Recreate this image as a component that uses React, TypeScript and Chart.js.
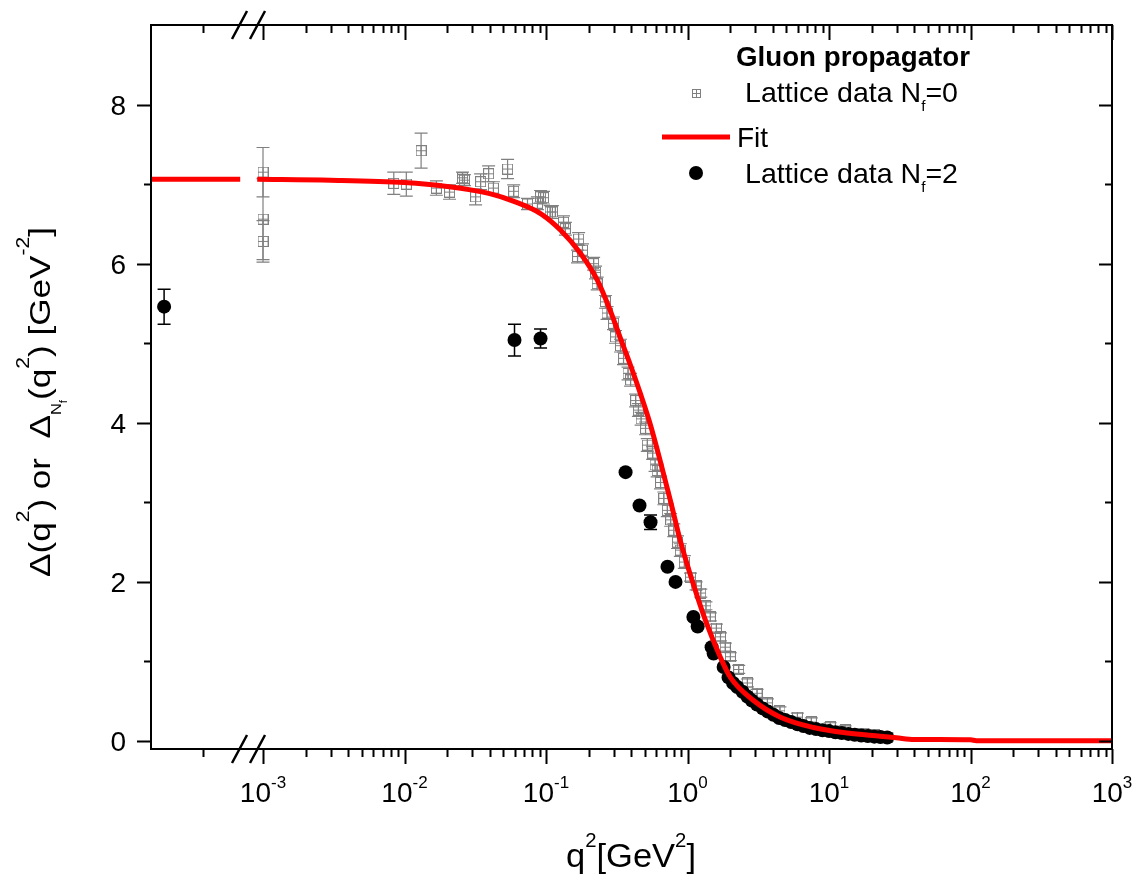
import React, { useEffect, useRef } from 'react';
import { Chart, registerables } from 'chart.js';

Chart.register(...registerables);

// ---------------- data ----------------
const nf0Q2 = [0.001, 0.001, 0.001, 0.0084, 0.0103, 0.0131, 0.0168, 0.0208, 0.0257, 0.0265, 0.0318, 0.0345, 0.0393, 0.0425, 0.0535, 0.0591, 0.074, 0.087, 0.0915, 0.096, 0.107, 0.111, 0.133, 0.137, 0.167, 0.17, 0.181, 0.217, 0.224, 0.23, 0.263, 0.27, 0.30, 0.31, 0.336, 0.353, 0.38, 0.396, 0.43, 0.45, 0.47, 0.505, 0.52, 0.567, 0.59, 0.61, 0.645, 0.68, 0.72, 0.76, 0.80, 0.85, 0.89, 0.95, 1.05, 1.15, 1.24, 1.35, 1.45, 1.6, 1.71, 1.85, 2.01, 2.3, 2.65, 3.1, 3.67, 4.5, 5.98, 7.5, 10.2, 13, 17.5, 21, 25.8];
const nf0Val = [7.15, 6.56, 6.28, 7.01, 7.00, 7.42, 6.95, 6.90, 7.08, 7.05, 6.84, 7.03, 7.13, 6.95, 7.19, 6.91, 6.75, 6.76, 6.84, 6.83, 6.65, 6.65, 6.52, 6.44, 6.09, 6.31, 6.17, 6.00, 5.89, 5.75, 5.52, 5.38, 5.25, 5.08, 4.97, 4.81, 4.62, 4.54, 4.28, 4.16, 4.05, 3.93, 3.72, 3.62, 3.47, 3.40, 3.25, 3.05, 2.90, 2.78, 2.65, 2.50, 2.40, 2.25, 2.06, 1.95, 1.86, 1.70, 1.56, 1.42, 1.31, 1.18, 1.06, 0.90, 0.73, 0.60, 0.48, 0.38, 0.30, 0.24, 0.18, 0.14, 0.10, 0.08, 0.05];
const nf0Err = [0.31, 0.51, 0.26, 0.14, 0.15, 0.22, 0.09, 0.09, 0.07, 0.07, 0.10, 0.10, 0.10, 0.08, 0.12, 0.08, 0.07, 0.08, 0.08, 0.08, 0.08, 0.08, 0.08, 0.08, 0.08, 0.08, 0.08, 0.08, 0.08, 0.08, 0.08, 0.08, 0.08, 0.08, 0.08, 0.08, 0.08, 0.08, 0.08, 0.08, 0.08, 0.08, 0.08, 0.08, 0.08, 0.08, 0.08, 0.08, 0.08, 0.08, 0.08, 0.08, 0.08, 0.08, 0.05, 0.05, 0.05, 0.05, 0.05, 0.05, 0.05, 0.05, 0.05, 0.05, 0.05, 0.05, 0.05, 0.05, 0.05, 0.05, 0.05, 0.05, 0.05, 0.05, 0.05];

const nf2Q2 = [2.0e-4, 0.0599, 0.0915, 0.365, 0.458, 0.548, 0.722, 0.823, 1.10, 1.18, 1.48, 1.53, 1.80, 1.95, 2.10, 2.25, 2.45, 2.65, 2.85, 3.1, 3.4, 3.7, 4.05, 4.45, 4.9, 5.4, 6.0, 6.6, 7.3, 8.1, 9.0, 10.0, 11.1, 12.3, 13.7, 15.2, 16.9, 18.8, 20.9, 23.1, 25.8];
const nf2Val = [5.46, 5.04, 5.06, 3.38, 2.96, 2.75, 2.19, 2.00, 1.56, 1.44, 1.18, 1.10, 0.93, 0.80, 0.73, 0.68, 0.62, 0.56, 0.51, 0.46, 0.41, 0.37, 0.33, 0.29, 0.265, 0.24, 0.21, 0.19, 0.165, 0.15, 0.135, 0.125, 0.11, 0.10, 0.09, 0.08, 0.07, 0.062, 0.055, 0.05, 0.045];
const nf2Err = [0.22, 0.20, 0.12, 0, 0, 0.09, 0, 0, 0, 0, 0, 0, 0, 0, 0, 0, 0, 0, 0, 0, 0, 0, 0, 0, 0, 0, 0, 0, 0, 0, 0, 0, 0, 0, 0, 0, 0, 0, 0, 0, 0];

const fitQ2 = [1.616e-4, 6.9e-4, 7.9e-4, 9.1e-4, 3e-3, 0.01, 0.02, 0.04, 0.06, 0.0915, 0.127, 0.175, 0.231, 0.286, 0.336, 0.396, 0.466, 0.548, 0.646, 0.758, 0.889, 1.10, 1.35, 1.71, 2.01, 2.93, 4.54, 7.77, 13.5, 23, 30, 40, 100, 110, 1000];
const fitVal: (number | null)[] = [7.06, 7.06, null, 7.06, 7.05, 7.02, 6.97, 6.88, 6.78, 6.63, 6.42, 6.13, 5.79, 5.40, 5.06, 4.72, 4.36, 3.97, 3.50, 3.02, 2.52, 1.97, 1.50, 1.05, 0.80, 0.51, 0.30, 0.17, 0.10, 0.06, 0.04, 0.02, 0.015, 0.005, 0.005];

const xMajorTicks = [1e-3, 1e-2, 1e-1, 1, 10, 100, 1000];
const xTickExponents = ['-3', '-2', '-1', '0', '1', '2', '3'];
const xPreBreakMinor = [3.77e-4];
const yMajorTicks = [0, 2, 4, 6, 8];
const yMinorTicks = [1, 3, 5, 7];

const X_MIN = 1.616e-4;
const X_MAX = 1000;
const Y_MIN = -0.1;
const Y_MAX = 9.0;
const BREAK_AT = 7.9e-4;

const legendTitle = 'Gluon propagator';
const legendNf = 'Lattice data N';
const legendFit = 'Fit';

// ---------------- helpers ----------------
const FONT = '"Liberation Sans", Arial, Helvetica, sans-serif';
const GRAY = '#808080';

type Seg = { t: string; size: number; dy?: number; bold?: boolean };

function segFont(s: Seg) {
  return `${s.bold ? 'bold ' : ''}${s.size}px ${FONT}`;
}

function richWidth(ctx: CanvasRenderingContext2D, segs: Seg[]) {
  let w = 0;
  for (const s of segs) {
    ctx.font = segFont(s);
    w += ctx.measureText(s.t).width;
  }
  return w;
}

function drawRich(ctx: CanvasRenderingContext2D, segs: Seg[], x: number, y: number, align: 'left' | 'center' | 'right' = 'left', target?: number) {
  const w = richWidth(ctx, segs);
  const sx = target ? target / w : 1;
  ctx.save();
  ctx.translate(x, y);
  ctx.scale(sx, 1);
  let cx = align === 'center' ? -w / 2 : align === 'right' ? -w : 0;
  ctx.textBaseline = 'alphabetic';
  ctx.textAlign = 'left';
  ctx.fillStyle = '#000';
  for (const s of segs) {
    ctx.font = segFont(s);
    ctx.fillText(s.t, cx, s.dy || 0);
    cx += ctx.measureText(s.t).width;
  }
  ctx.restore();
}

function drawSquareMarker(ctx: CanvasRenderingContext2D, cx: number, cy: number, size: number) {
  const h = size / 2;
  ctx.save();
  ctx.strokeStyle = GRAY;
  ctx.lineWidth = 1;
  const x0 = Math.round(cx - h) + 0.5;
  const y0 = Math.round(cy - h) + 0.5;
  ctx.strokeRect(x0, y0, size, size);
  ctx.beginPath();
  ctx.moveTo(x0 + size / 2, y0);
  ctx.lineTo(x0 + size / 2, y0 + size);
  ctx.moveTo(x0, y0 + size / 2);
  ctx.lineTo(x0 + size, y0 + size / 2);
  ctx.stroke();
  ctx.restore();
}

function makeSquareImage() {
  const c = document.createElement('canvas');
  c.width = 11;
  c.height = 11;
  const g = c.getContext('2d')!;
  g.strokeStyle = GRAY;
  g.lineWidth = 1;
  g.strokeRect(0.5, 0.5, 10, 10);
  g.beginPath();
  g.moveTo(5.5, 0.5);
  g.lineTo(5.5, 10.5);
  g.moveTo(0.5, 5.5);
  g.lineTo(10.5, 5.5);
  g.stroke();
  return c;
}

const decorPlugin = {
  id: 'decor',
  beforeDatasetDraw(chart: any, args: any) {
    const ds = chart.data.datasets[args.index];
    if (!ds.errors) return;
    const ctx: CanvasRenderingContext2D = chart.ctx;
    const xs = chart.scales.x;
    const ys = chart.scales.y;
    ctx.save();
    ctx.strokeStyle = ds.errColor;
    ctx.lineWidth = ds.errWidth;
    ds.data.forEach((p: any, i: number) => {
      const e = ds.errors[i];
      if (!e) return;
      const px = xs.getPixelForValue(p.x);
      const y1 = ys.getPixelForValue(p.y + e);
      const y2 = ys.getPixelForValue(p.y - e);
      const cap = ds.capHalf;
      ctx.beginPath();
      ctx.moveTo(px, y1);
      ctx.lineTo(px, y2);
      ctx.moveTo(px - cap, y1);
      ctx.lineTo(px + cap, y1);
      ctx.moveTo(px - cap, y2);
      ctx.lineTo(px + cap, y2);
      ctx.stroke();
    });
    ctx.restore();
  },
  afterDraw(chart: any) {
    const ctx: CanvasRenderingContext2D = chart.ctx;
    const xs = chart.scales.x;
    const ys = chart.scales.y;
    const { left, right, top, bottom } = chart.chartArea;
    ctx.save();
    // frame
    ctx.strokeStyle = '#000';
    ctx.lineWidth = 2;
    ctx.strokeRect(left, top, right - left, bottom - top);

    // x ticks
    const xMinor: number[] = [...xPreBreakMinor];
    for (let n = -3; n < 3; n++) {
      for (let k = 2; k <= 9; k++) xMinor.push(k * Math.pow(10, n));
    }
    ctx.beginPath();
    for (const v of xMajorTicks) {
      const px = Math.round(xs.getPixelForValue(v)) + 0.5;
      ctx.moveTo(px, bottom);
      ctx.lineTo(px, bottom + 15);
      ctx.moveTo(px, top);
      ctx.lineTo(px, top + 15);
    }
    for (const v of xMinor) {
      const px = Math.round(xs.getPixelForValue(v)) + 0.5;
      ctx.moveTo(px, bottom);
      ctx.lineTo(px, bottom + 8);
      ctx.moveTo(px, top);
      ctx.lineTo(px, top + 8);
    }
    // y ticks
    for (const v of yMajorTicks) {
      const py = Math.round(ys.getPixelForValue(v)) + 0.5;
      ctx.moveTo(left, py);
      ctx.lineTo(left - 14, py);
      ctx.moveTo(right, py);
      ctx.lineTo(right - 13, py);
    }
    for (const v of yMinorTicks) {
      const py = Math.round(ys.getPixelForValue(v)) + 0.5;
      ctx.moveTo(left, py);
      ctx.lineTo(left - 7, py);
      ctx.moveTo(right, py);
      ctx.lineTo(right - 7, py);
    }
    ctx.stroke();

    // axis break marks
    const xb = xs.getPixelForValue(BREAK_AT);
    ctx.lineWidth = 2.5;
    ctx.beginPath();
    for (const yAxis of [bottom, top]) {
      for (const off of [-9, 9]) {
        ctx.moveTo(xb + off - 7.5, yAxis + 14);
        ctx.lineTo(xb + off + 7.5, yAxis - 14);
      }
    }
    ctx.stroke();

    // x tick labels
    xMajorTicks.forEach((v, i) => {
      const px = xs.getPixelForValue(v);
      drawRich(ctx, [{ t: '10', size: 28 }, { t: xTickExponents[i], size: 17, dy: -14 }], px, bottom + 53, 'center');
    });
    // y tick labels
    for (const v of yMajorTicks) {
      const py = ys.getPixelForValue(v);
      drawRich(ctx, [{ t: String(v), size: 28 }], left - 25, py + 10, 'right');
    }

    // x title
    drawRich(ctx, [
      { t: 'q', size: 34 }, { t: '2', size: 20, dy: -20 }, { t: '[GeV', size: 34 }, { t: '2', size: 20, dy: -20 }, { t: ']', size: 34 },
    ], 566, 867, 'left', 130);

    // y title
    ctx.save();
    ctx.translate(50, 577);
    ctx.rotate(-Math.PI / 2);
    drawRich(ctx, [
      { t: 'Δ(q', size: 30 }, { t: '2', size: 18, dy: -21 }, { t: ') or  Δ', size: 30 },
      { t: 'N', size: 14, dy: 11 }, { t: 'f', size: 10, dy: 17 },
      { t: '(q', size: 30 }, { t: '2', size: 18, dy: -21 }, { t: ') [GeV', size: 30 }, { t: '-2', size: 18, dy: -21 }, { t: ']', size: 30 },
    ], 0, 0, 'left', 350);
    ctx.restore();

    // legend
    drawRich(ctx, [{ t: legendTitle, size: 27, bold: true }], 736, 66, 'left', 234);
    drawSquareMarker(ctx, 696, 93, 8);
    drawRich(ctx, [{ t: legendNf, size: 28 }, { t: 'f', size: 15, dy: 9 }, { t: '=0', size: 28 }], 745, 102, 'left', 213);
    ctx.strokeStyle = '#ff0000';
    ctx.lineWidth = 5;
    ctx.beginPath();
    ctx.moveTo(662, 137);
    ctx.lineTo(730, 137);
    ctx.stroke();
    drawRich(ctx, [{ t: legendFit, size: 28 }], 737, 147, 'left');
    ctx.fillStyle = '#000';
    ctx.beginPath();
    ctx.arc(696, 173, 7, 0, Math.PI * 2);
    ctx.fill();
    drawRich(ctx, [{ t: legendNf, size: 28 }, { t: 'f', size: 15, dy: 9 }, { t: '=2', size: 28 }], 745, 183, 'left', 213);

    ctx.restore();
  },
};

export default function App() {
  const ref = useRef<HTMLCanvasElement>(null);
  useEffect(() => {
    document.body.style.margin = '0';
    const squareImg = makeSquareImage();
    const chart = new Chart(ref.current!, {
      type: 'scatter',
      data: {
        datasets: [
          {
            label: 'Fit',
            data: fitQ2.map((x, i) => ({ x, y: fitVal[i] })) as any,
            showLine: true,
            borderColor: '#ff0000',
            backgroundColor: '#ff0000',
            borderWidth: 5,
            pointRadius: 0,
            spanGaps: false,
            cubicInterpolationMode: 'monotone',
            order: 0,
          } as any,
          {
            label: 'Lattice data Nf=2',
            data: nf2Q2.map((x, i) => ({ x, y: nf2Val[i] })),
            pointStyle: 'circle',
            pointRadius: 7,
            backgroundColor: '#000',
            borderColor: '#000',
            borderWidth: 0,
            order: 1,
            errors: nf2Err,
            errColor: '#000',
            errWidth: 1.5,
            capHalf: 6.5,
          } as any,
          {
            label: 'Lattice data Nf=0',
            data: nf0Q2.map((x, i) => ({ x, y: nf0Val[i] })),
            pointStyle: squareImg,
            pointRadius: 5,
            order: 2,
            errors: nf0Err,
            errColor: GRAY,
            errWidth: 1.2,
            capHalf: 6.5,
          } as any,
        ],
      },
      options: {
        animation: false,
        responsive: false,
        maintainAspectRatio: false,
        events: [],
        layout: { padding: { left: 151, right: 24, top: 25, bottom: 128 } },
        scales: {
          x: { type: 'logarithmic', min: X_MIN, max: X_MAX, display: false },
          y: { type: 'linear', min: Y_MIN, max: Y_MAX, display: false },
        },
        plugins: { legend: { display: false }, tooltip: { enabled: false } },
      },
      plugins: [decorPlugin as any],
    });
    return () => chart.destroy();
  }, []);
  return (
    <div style={{ position: 'absolute', left: 0, top: 0, width: 1136, height: 877, background: '#fff' }}>
      <canvas ref={ref} width={1136} height={877} style={{ display: 'block', width: 1136, height: 877 }} />
    </div>
  );
}
